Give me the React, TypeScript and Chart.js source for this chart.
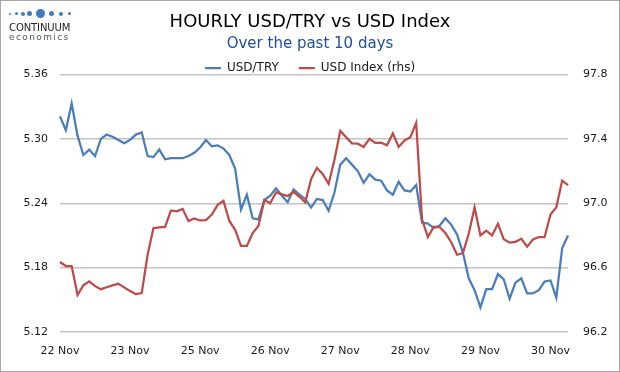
import React, { useEffect, useRef } from 'react';
import { Chart, registerables } from 'chart.js';

Chart.register(...registerables);

// ---- data ----
const dayLabels = ['22 Nov', '23 Nov', '25 Nov', '26 Nov', '27 Nov', '28 Nov', '29 Nov', '30 Nov'];
const stepsPerDay = 12; // one point every 2 hours

const usdTry = [
  5.321, 5.308, 5.333, 5.303, 5.285, 5.290, 5.284, 5.300, 5.304, 5.302, 5.299, 5.296,
  5.299, 5.304, 5.306, 5.284, 5.283, 5.290, 5.281, 5.282, 5.282, 5.282, 5.284, 5.287,
  5.292, 5.299, 5.293, 5.294, 5.291, 5.285, 5.272, 5.234, 5.248, 5.226, 5.225, 5.243,
  5.247, 5.254, 5.247, 5.241, 5.253, 5.248, 5.244, 5.236, 5.244, 5.243, 5.233, 5.250,
  5.276, 5.282, 5.276, 5.270, 5.259, 5.267, 5.262, 5.261, 5.252, 5.248, 5.260, 5.252,
  5.251, 5.257, 5.222, 5.221, 5.217, 5.219, 5.226, 5.220, 5.211, 5.194, 5.170, 5.159,
  5.143, 5.160, 5.160, 5.174, 5.169, 5.151, 5.166, 5.170, 5.156, 5.156, 5.159, 5.167,
  5.168, 5.152, 5.198, 5.210,
];

const usdIndex = [
  96.635, 96.610, 96.610, 96.430, 96.490, 96.515, 96.485, 96.466, 96.478, 96.490, 96.500, 96.477,
  96.455, 96.435, 96.442, 96.680, 96.845, 96.850, 96.853, 96.955, 96.950, 96.965, 96.890, 96.905,
  96.893, 96.895, 96.930, 96.990, 97.015, 96.890, 96.835, 96.735, 96.735, 96.815, 96.860, 97.020,
  97.000, 97.068, 97.055, 97.045, 97.070, 97.040, 97.005, 97.150, 97.220, 97.180, 97.120, 97.270,
  97.450, 97.410, 97.372, 97.370, 97.350, 97.400, 97.375, 97.376, 97.360, 97.434, 97.350, 97.390,
  97.410, 97.500, 96.900, 96.790, 96.853, 96.852, 96.815, 96.758, 96.680, 96.690, 96.810, 96.975,
  96.800, 96.830, 96.800, 96.872, 96.776, 96.755, 96.760, 96.780, 96.730, 96.775, 96.790, 96.790,
  96.930, 96.975, 97.140, 97.113,
];

const leftTicks = [5.12, 5.18, 5.24, 5.30, 5.36];
const rightTicks = [96.2, 96.6, 97.0, 97.4, 97.8];

const categories = usdTry.map((_, i) => {
  const day = dayLabels[Math.floor(i / stepsPerDay)] ?? dayLabels[dayLabels.length - 1];
  const hour = String((i % stepsPerDay) * 2).padStart(2, '0');
  return `${day} ${hour}:00`;
});

const FONT = "'DejaVu Sans', Verdana, sans-serif";
const TEXT = '#1a1a1a';

export default function App() {
  const ref = useRef<HTMLCanvasElement>(null);

  useEffect(() => {
    document.body.style.margin = '0';
    const canvas = ref.current;
    if (!canvas) return;
    const chart = new Chart(canvas, {
      type: 'line',
      data: {
        labels: categories,
        datasets: [
          {
            label: 'USD/TRY',
            data: usdTry,
            borderColor: '#4A7EBB',
            backgroundColor: '#4A7EBB',
            borderWidth: 2.25,
            pointRadius: 0,
            tension: 0,
            yAxisID: 'y',
            order: 1,
          },
          {
            label: 'USD Index (rhs)',
            data: usdIndex,
            borderColor: '#BE4B48',
            backgroundColor: '#BE4B48',
            borderWidth: 2.25,
            pointRadius: 0,
            tension: 0,
            yAxisID: 'y1',
            order: 0,
          },
        ],
      },
      options: {
        responsive: false,
        animation: false,
        devicePixelRatio: 1,
        events: [],
        layout: { padding: 0 },
        font: { family: FONT },
        plugins: {
          tooltip: { enabled: false },
          title: {
            display: true,
            text: 'HOURLY USD/TRY vs USD Index',
            color: '#000',
            font: { family: FONT, size: 18, weight: 'normal', lineHeight: 1.2 },
            padding: { top: 11.2, bottom: 0 },
          },
          subtitle: {
            display: true,
            text: 'Over the past 10 days',
            color: '#1F4E9A',
            font: { family: FONT, size: 15, weight: 'normal', lineHeight: 1.2 },
            padding: { top: 2.2, bottom: -11 },
          },
          legend: {
            display: true,
            position: 'top',
            maxHeight: 32.5,
            labels: {
              usePointStyle: true,
              pointStyle: 'line',
              pointStyleWidth: 16,
              padding: 20,
              color: TEXT,
              font: { family: FONT, size: 12 },
              sort: (a: any, b: any) => a.datasetIndex - b.datasetIndex,
            },
          },
        },
        scales: {
          x: {
            type: 'category',
            grid: { display: false, drawTicks: false },
            border: { display: false },
            ticks: {
              autoSkip: false,
              maxRotation: 0,
              minRotation: 0,
              padding: 13,
              color: TEXT,
              font: { family: FONT, size: 11 },
              callback: (_v: any, index: number) =>
                index % stepsPerDay === 0 ? dayLabels[index / stepsPerDay] : '',
            },
            afterFit: (scale: any) => {
              scale.height = 40;
            },
          },
          y: {
            type: 'linear',
            position: 'left',
            min: leftTicks[0],
            max: leftTicks[leftTicks.length - 1],
            afterBuildTicks: (scale: any) => {
              scale.ticks = leftTicks.map((v) => ({ value: v }));
            },
            grid: { color: '#C4C4C4', lineWidth: 1.5, drawTicks: false },
            border: { display: false },
            ticks: {
              padding: 12,
              color: TEXT,
              font: { family: FONT, size: 11 },
              callback: (v: any) => Number(v).toFixed(2),
            },
            afterFit: (scale: any) => {
              scale.width = 60;
            },
          },
          y1: {
            type: 'linear',
            position: 'right',
            min: rightTicks[0],
            max: rightTicks[rightTicks.length - 1],
            afterBuildTicks: (scale: any) => {
              scale.ticks = rightTicks.map((v) => ({ value: v }));
            },
            grid: { display: false, drawTicks: false },
            border: { display: false },
            ticks: {
              padding: 15,
              color: TEXT,
              font: { family: FONT, size: 11 },
              callback: (v: any) => Number(v).toFixed(1),
            },
            afterFit: (scale: any) => {
              scale.width = 52;
            },
          },
        },
      },
    } as any);
    return () => chart.destroy();
  }, []);

  const dots = [
    { x: 10, r: 1 },
    { x: 16.5, r: 1.5 },
    { x: 23, r: 2 },
    { x: 29.5, r: 2.5 },
    { x: 40, r: 4.5 },
    { x: 51.5, r: 2.5 },
    { x: 61, r: 2 },
    { x: 69, r: 1.5 },
  ];

  return (
    <div style={{ position: 'relative', width: 620, height: 372, background: '#fff', overflow: 'hidden' }}>
      <canvas ref={ref} width={620} height={372} style={{ display: 'block', width: 620, height: 372 }} />
      {dots.map((d, i) => (
        <div
          key={i}
          style={{
            position: 'absolute',
            left: d.x - d.r,
            top: 13.5 - d.r,
            width: d.r * 2,
            height: d.r * 2,
            borderRadius: '50%',
            background: '#3D7CC4',
          }}
        />
      ))}
      <div
        style={{
          position: 'absolute',
          left: 9,
          top: 22.5,
          fontFamily: FONT,
          fontSize: 10,
          lineHeight: '10px',
          color: '#222',
          letterSpacing: '-0.1px',
        }}
      >
        CONTINUUM
      </div>
      <div
        style={{
          position: 'absolute',
          left: 9,
          top: 32,
          fontFamily: FONT,
          fontSize: 9,
          lineHeight: '10px',
          color: '#555',
          letterSpacing: '1.4px',
        }}
      >
        economics
      </div>
      <div
        style={{
          position: 'absolute',
          left: 0,
          top: 0,
          width: 620,
          height: 372,
          boxSizing: 'border-box',
          border: '1px solid #A6A6A6',
          pointerEvents: 'none',
        }}
      />
    </div>
  );
}
